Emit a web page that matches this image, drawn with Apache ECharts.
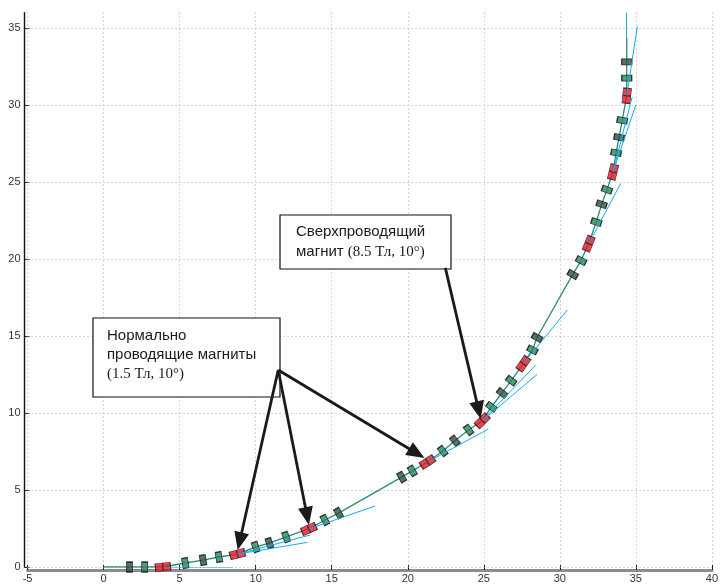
<!DOCTYPE html>
<html><head><meta charset="utf-8">
<script src="https://cdn.jsdelivr.net/npm/echarts@6/dist/echarts.min.js"></script>
<style>html,body{margin:0;padding:0;background:#fff}#c{width:721px;height:585px}</style>
</head><body><div id="c"></div>
<script>
// axis ticks
const xTicks = [-5, 0, 5, 10, 15, 20, 25, 30, 35, 40];
const yTicks = [0, 5, 10, 15, 20, 25, 30, 35];

// beam path start / end
const beamStart = [0, 0];
const beamEnd = [34.4, 34.4];

// lattice elements along the beam (D = dark quad, G = green quad, B = bending magnet)
const elemX = [1.7, 2.7, 3.9, 5.37, 6.54, 7.58, 8.8, 10.0, 10.9, 12.0, 13.5, 14.55, 15.45,
               19.6, 20.3, 21.3, 22.3, 23.1, 24.0, 24.9, 25.5, 26.2, 26.8, 27.6, 28.2, 28.5,
               30.85, 31.4, 31.9, 32.4, 32.75, 33.1, 33.5, 33.7, 33.9, 34.1, 34.4, 34.4, 34.4];
const elemY = [0, 0, 0, 0.26, 0.45, 0.65, 0.84, 1.3, 1.55, 1.95, 2.47, 3.05, 3.5,
               5.84, 6.24, 6.82, 7.53, 8.2, 8.9, 9.5, 10.4, 11.3, 12.1, 13.2, 14.1, 14.9,
               19.0, 19.9, 21.0, 22.4, 23.55, 24.5, 25.65, 26.9, 27.9, 29.0, 30.6, 31.75, 32.8];
const elemKind = ['D','G','B','G','D','G','B','G','D','G','B','G','D',
                  'D','G','B','G','D','G','B','G','D','G','B','G','D',
                  'D','G','B','G','D','G','B','G','D','G','B','G','D'];

// straight (field-off) continuation lines from the bending magnets
const tanX1 = [3.9, 8.8, 8.8, 13.5, 21.3, 24.9, 24.9, 27.6, 31.9, 33.5, 33.5, 34.4, 34.4];
const tanY1 = [0, 0.84, 0.84, 2.47, 6.82, 9.5, 9.5, 13.2, 21.0, 25.65, 25.65, 30.6, 34.4];
const tanX2 = [8.5, 13.4, 13.6, 17.85, 25.3, 28.5, 28.4, 30.5, 34.0, 35.0, 34.75, 35.1, 34.4];
const tanY2 = [0, 1.6, 2.08, 3.96, 8.96, 12.5, 13.1, 16.7, 24.9, 30.0, 30.5, 35.1, 36];

// annotation arrows (data coordinates)
const arrowFromX = [11.48, 11.48, 11.48, 22.47];
const arrowFromY = [12.79, 12.79, 12.79, 19.42];
const arrowToX = [8.82, 13.5, 21.1, 24.8];
const arrowToY = [1.10, 2.73, 7.08, 9.61];

const chart = echarts.init(document.getElementById('c'), null, {renderer: 'canvas'});

const pathPts = [beamStart].concat(elemX.map((x, i) => [x, elemY[i]])).concat([beamEnd]);
function angleAt(i) { // i index into elem arrays
  const p = pathPts[i], n = pathPts[i + 2];
  return Math.atan2(n[1] - p[1], n[0] - p[0]) * 180 / Math.PI;
}
function elems(kind) {
  const out = [];
  elemX.forEach((x, i) => {
    if (elemKind[i] === kind) out.push({value: [x, elemY[i]], symbolRotate: angleAt(i)});
  });
  return out;
}

const sans = "'Liberation Sans', Arial, sans-serif";
const serif = "'Liberation Serif', 'Times New Roman', serif";
const gridDot = {color: '#ababab', width: 1, type: [1, 3]};

const option = {
  animation: false,
  backgroundColor: '#fff',
  grid: {left: 27.6, right: 1.4, top: 12.6, bottom: 18},
  xAxis: {
    type: 'value', min: -5, max: 40, interval: 5, offset: 3,
    axisLine: {onZero: false, lineStyle: {color: '#8c8c8c', width: 3}},
    axisTick: {inside: true, length: 5, lineStyle: {color: '#222', width: 1}},
    axisLabel: {color: '#333', fontFamily: sans, fontSize: 11, margin: 3,
                customValues: xTicks},
    splitLine: {show: true, lineStyle: gridDot}
  },
  yAxis: {
    type: 'value', min: 0, max: 36, interval: 5, offset: 3,
    axisLine: {onZero: false, lineStyle: {color: '#111', width: 1.4}},
    axisTick: {inside: true, length: 5, lineStyle: {color: '#222', width: 1}, customValues: yTicks},
    axisLabel: {color: '#333', fontFamily: sans, fontSize: 11, margin: 4, customValues: yTicks,
                formatter: v => (yTicks.indexOf(v) >= 0 ? String(v) : '')},
    splitLine: {show: false}
  },
  series: [
    {
      type: 'line', data: pathPts, showSymbol: false, z: 3,
      lineStyle: {color: '#2e8a7c', width: 1.3},
      markLine: {
        silent: true, symbol: 'none', label: {show: false},
        lineStyle: gridDot, z: 1,
        data: yTicks.map(v => ({yAxis: v}))
      }
    },
    {
      type: 'scatter', data: elems('D'), symbol: 'rect', symbolSize: [6, 10], z: 4,
      itemStyle: {color: '#30503f', borderColor: '#0a0a0a', borderWidth: 1}
    },
    {
      type: 'scatter', data: elems('G'), symbol: 'rect', symbolSize: [6, 10], z: 4,
      itemStyle: {color: '#238a58', borderColor: '#0a0a0a', borderWidth: 1}
    },
    {
      type: 'scatter', data: elems('B'),
      symbol: 'path://M0,0h10v8h-10z M10,0h10v8h-10z', symbolSize: [15, 8], z: 4,
      itemStyle: {color: '#e8151f', borderColor: '#1a1a1a', borderWidth: 0.9}
    },
    {
      type: 'lines', coordinateSystem: 'cartesian2d', z: 5,
      lineStyle: {color: '#17a9e8', width: 1, opacity: 1},
      data: tanX1.map((x, i) => ({coords: [[x, tanY1[i]], [tanX2[i], tanY2[i]]]}))
    }
  ]
};
chart.setOption(option);

// annotation boxes and arrows
const g = [];
function box(x, y, w, h) {
  g.push({type: 'rect', shape: {x: x, y: y, width: w, height: h}, z: 20,
          style: {fill: '#fff', stroke: '#111', lineWidth: 1.2}});
}
function txt(x, y, text, rich) {
  g.push({type: 'text', x: x, y: y, z: 21,
          style: {text: text, fill: '#1a1a1a', font: '15px ' + sans, textVerticalAlign: 'middle',
                  rich: rich}});
}
const rich = {
  s: {fontFamily: sans, fontSize: 15, fill: '#1a1a1a'},
  t: {fontFamily: serif, fontSize: 15, fill: '#1a1a1a'}
};
box(93, 318, 187, 79);
txt(107, 336, '{s|Нормально}', rich);
txt(107, 355, '{s|проводящие магниты}', rich);
txt(107, 374, '{t|(1.5 Тл, 10°)}', rich);
box(280, 215, 171, 54);
txt(296, 232, '{s|Сверхпроводящий}', rich);
txt(296, 252, '{s|магнит }{t|(8.5 Тл, 10°)}', rich);

arrowFromX.forEach((fx, i) => {
  const a = chart.convertToPixel({xAxisIndex: 0, yAxisIndex: 0}, [fx, arrowFromY[i]]);
  const b = chart.convertToPixel({xAxisIndex: 0, yAxisIndex: 0}, [arrowToX[i], arrowToY[i]]);
  const dx = b[0] - a[0], dy = b[1] - a[1];
  const L = Math.sqrt(dx * dx + dy * dy);
  const ux = dx / L, uy = dy / L;
  const hl = 18, hw = 7.5;
  const bx = b[0] - ux * hl, by = b[1] - uy * hl;
  g.push({type: 'line', z: 22, shape: {x1: a[0], y1: a[1], x2: bx + ux * 2, y2: by + uy * 2},
          style: {stroke: '#1a1a1a', lineWidth: 2.8}});
  g.push({type: 'polygon', z: 22,
          shape: {points: [[b[0], b[1]], [bx - uy * hw, by + ux * hw], [bx + uy * hw, by - ux * hw]]},
          style: {fill: '#1a1a1a'}});
});
chart.setOption({graphic: g});
</script></body></html>
